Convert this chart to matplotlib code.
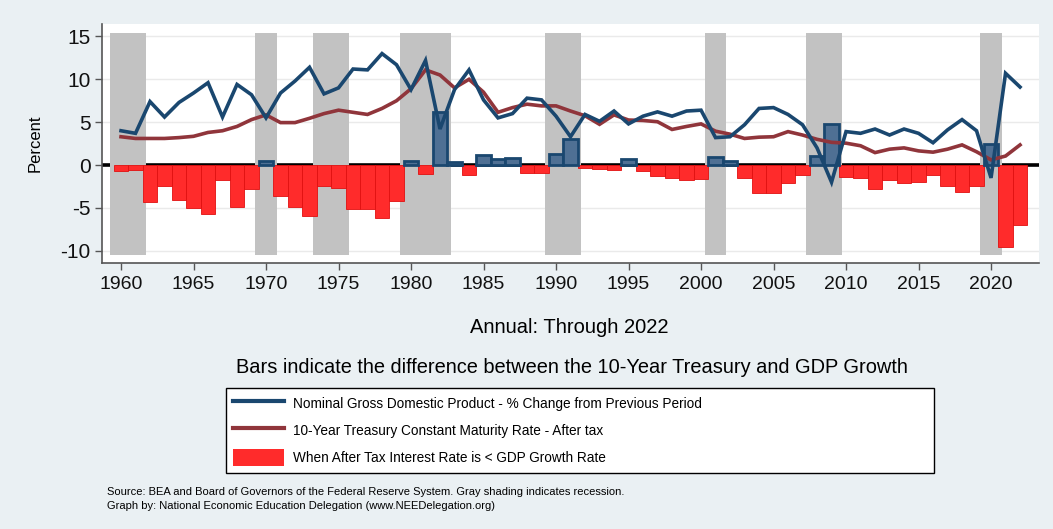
import numpy as np
import matplotlib
matplotlib.use("Agg")
import matplotlib.pyplot as plt
from matplotlib.lines import Line2D
from matplotlib.patches import Patch

# =========================
# Data
# =========================
years = list(range(1960, 2023))

gdp_growth = [
    4.0, 3.7, 7.4, 5.6, 7.3, 8.4, 9.6, 5.6, 9.4, 8.2,
    5.5, 8.4, 9.8, 11.4, 8.3, 9.0, 11.2, 11.1, 13.0, 11.7,
    8.8, 12.2, 4.2, 8.8, 11.1, 7.6, 5.5, 6.0, 7.8, 7.6,
    5.7, 3.3, 5.9, 5.1, 6.3, 4.8, 5.7, 6.2, 5.7, 6.3,
    6.4, 3.2, 3.3, 4.7, 6.6, 6.7, 5.9, 4.7, 2.0, -2.0,
    3.9, 3.7, 4.2, 3.5, 4.2, 3.7, 2.6, 4.1, 5.3, 4.0,
    -1.5, 10.7, 9.1,
]

treasury_after_tax = [
    3.3, 3.1, 3.1, 3.1, 3.2, 3.35, 3.8, 4.0, 4.5, 5.3,
    5.85, 4.95, 4.95, 5.45, 6.0, 6.4, 6.15, 5.9, 6.6, 7.5,
    8.9, 11.1, 10.5, 9.0, 10.0, 8.5, 6.15, 6.7, 7.1, 6.9,
    6.9, 6.3, 5.75, 4.75, 5.85, 5.25, 5.2, 5.05, 4.15, 4.5,
    4.8, 3.95, 3.6, 3.1, 3.25, 3.3, 3.9, 3.5, 3.0, 2.65,
    2.55, 2.25, 1.45, 1.85, 2.0, 1.65, 1.5, 1.85, 2.35, 1.55,
    0.6, 1.05, 2.35,
]

# bars: 10-year treasury (after tax) minus GDP growth
spread = [
    -0.75, -0.6, -4.3, -2.45, -4.05, -5.0, -5.7, -1.75, -4.85, -2.8,
    0.5, -3.6, -4.85, -6.0, -2.4, -2.7, -5.1, -5.1, -6.2, -4.15,
    0.5, -1.05, 6.2, 0.3, -1.15, 1.15, 0.65, 0.85, -0.9, -0.9,
    1.3, 3.0, -0.3, -0.45, -0.6, 0.65, -0.65, -1.25, -1.5, -1.8,
    -1.65, 0.9, 0.5, -1.55, -3.25, -3.25, -2.1, -1.2, 1.05, 4.75,
    -1.35, -1.5, -2.85, -1.75, -2.15, -1.95, -1.15, -2.45, -3.1, -2.4,
    2.4, -9.55, -6.95,
]

# recessions (first year, last year)
recessions = [(1960, 1961), (1970, 1970), (1974, 1975), (1980, 1982),
              (1990, 1991), (2001, 2001), (2008, 2009), (2020, 2020)]

# =========================
# Style
# =========================
plt.rcParams["font.family"] = ["Liberation Sans", "DejaVu Sans"]
plt.rcParams["axes.unicode_minus"] = False

bg = "#eaf0f3"
navy = "#1a476f"
maroon = "#90353b"
red = "#ff2b2b"
slate = "#4f7094"
shade = "#c2c2c2"

fig = plt.figure(figsize=(10.53, 5.29), dpi=100, facecolor=bg)
ax = fig.add_axes([0.0966, 0.5028, 0.89, 0.4518])
ax.set_facecolor("white")

x = np.array(years)
s = np.array(spread)

# zero line, drawn under the shading
ax.axhline(0, color="black", linewidth=2.6, zorder=1)

for start, end in recessions:
    ax.fill_between([start - 0.75, end + 0.75], -10.5, 15.4,
                    color=shade, linewidth=0, zorder=2)

neg = s < 0
ax.bar(x[neg], s[neg], width=1.0, color=red, edgecolor="#e01010",
       linewidth=0.6, zorder=3)
ax.bar(x[~neg], s[~neg], width=1.0, color=slate, edgecolor=navy,
       linewidth=2.0, zorder=3)

ax.plot(x, treasury_after_tax, color=maroon, linewidth=2.6, zorder=4,
        solid_joinstyle="miter")
ax.plot(x, gdp_growth, color=navy, linewidth=2.6, zorder=5,
        solid_joinstyle="miter")

ax.set_xlim(1958.67, 2023.3)
ax.set_ylim(-11.43, 16.45)
ax.set_xticks(range(1960, 2021, 5))
ax.set_yticks([-10, -5, 0, 5, 10, 15])
ax.grid(axis="y", color="#eaeaea", linewidth=1.0, zorder=0)
ax.set_axisbelow(True)

for side in ["top", "right"]:
    ax.spines[side].set_visible(False)
for side in ["left", "bottom"]:
    ax.spines[side].set_color("#555555")
    ax.spines[side].set_linewidth(1.2)

ax.tick_params(axis="both", direction="out", length=5, width=1.0,
               color="#555555", labelcolor="#111111")
ax.tick_params(axis="y", labelsize=15, pad=3)
ax.tick_params(axis="x", labelsize=14, pad=4)

ax.set_ylabel("Percent", fontsize=12, labelpad=13)

# =========================
# Texts under the graph
# =========================
fig.text(0.541, 0.380, "Annual: Through 2022", ha="center", va="center",
         fontsize=14.5)
fig.text(0.543, 0.306,
         "Bars indicate the difference between the 10-Year Treasury and GDP Growth",
         ha="center", va="center", fontsize=14.4)

handles = [
    Line2D([], [], color=navy, linewidth=3),
    Line2D([], [], color=maroon, linewidth=3),
    Patch(facecolor=red, edgecolor="none"),
]
labels = [
    "Nominal Gross Domestic Product - % Change from Previous Period",
    "10-Year Treasury Constant Maturity Rate - After tax",
    "When After Tax Interest Rate is < GDP Growth Rate",
]
leg = fig.legend(handles, labels, loc="upper left",
                 bbox_to_anchor=(0.2146, 0.1078, 0.672, 0.1587),
                 mode="expand", borderaxespad=0, fontsize=9.8,
                 handlelength=3.75, handleheight=1.5, handletextpad=0.66,
                 labelspacing=0.78, borderpad=0.5, fancybox=False,
                 framealpha=1, edgecolor="black")
leg.get_frame().set_linewidth(1.0)

fig.text(0.1016, 0.070,
         "Source: BEA and Board of Governors of the Federal Reserve System. "
         "Gray shading indicates recession.",
         ha="left", va="center", fontsize=8.0)
fig.text(0.1016, 0.043,
         "Graph by: National Economic Education Delegation (www.NEEDelegation.org)",
         ha="left", va="center", fontsize=8.0)

fig.savefig("out.png", dpi=100, facecolor=bg)
